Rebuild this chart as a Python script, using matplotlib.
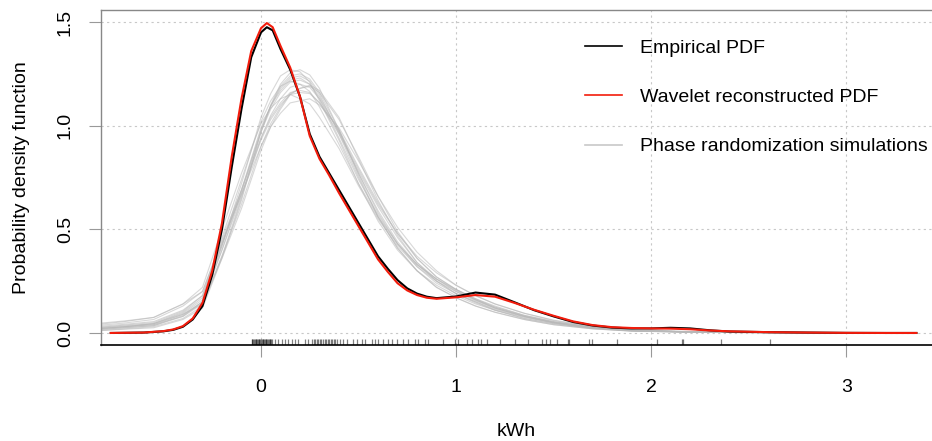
import matplotlib
matplotlib.use("Agg")
import matplotlib.pyplot as plt

plt.rcParams['font.family'] = ['Liberation Sans', 'DejaVu Sans']

# Density curves (kWh vs probability density)
pdf_x = [-0.77, -0.6, -0.5, -0.45, -0.4, -0.35, -0.3, -0.25, -0.2, -0.15, -0.1, -0.05,
         0.0, 0.03, 0.06, 0.1, 0.15, 0.2, 0.25, 0.3, 0.35, 0.4, 0.5, 0.6, 0.65, 0.7,
         0.75, 0.8, 0.85, 0.9, 1.0, 1.1, 1.2, 1.3, 1.4, 1.5, 1.6, 1.7, 1.8, 1.9, 2.0,
         2.1, 2.2, 2.3, 2.4, 2.6, 2.8, 3.0, 3.2, 3.36]
empirical_pdf = [0.0, 0.002, 0.008, 0.015, 0.03, 0.065, 0.13, 0.28, 0.50, 0.80, 1.08, 1.33,
                 1.45, 1.475, 1.46, 1.37, 1.27, 1.14, 0.96, 0.85, 0.77, 0.69, 0.53, 0.37,
                 0.31, 0.255, 0.215, 0.19, 0.175, 0.168, 0.176, 0.195, 0.185, 0.148, 0.11,
                 0.08, 0.053, 0.036, 0.026, 0.022, 0.022, 0.025, 0.022, 0.013, 0.007, 0.004,
                 0.002, 0.0005, 0.0, 0.0]
wavelet_pdf = [0.0, 0.002, 0.009, 0.017, 0.033, 0.07, 0.145, 0.30, 0.53, 0.85, 1.13, 1.36,
               1.47, 1.495, 1.475, 1.385, 1.28, 1.14, 0.95, 0.84, 0.76, 0.675, 0.515, 0.355,
               0.295, 0.24, 0.205, 0.183, 0.17, 0.165, 0.172, 0.183, 0.175, 0.145, 0.112,
               0.083, 0.056, 0.038, 0.028, 0.024, 0.022, 0.021, 0.018, 0.012, 0.008, 0.004,
               0.002, 0.0005, 0.0, 0.0]

# Phase randomization simulations, all on one grid
sim_x = [-0.85, -0.7, -0.55, -0.4, -0.3, -0.2, -0.1, 0.0, 0.05, 0.1, 0.15, 0.2, 0.25, 0.3,
         0.4, 0.5, 0.6, 0.7, 0.8, 0.9, 1.0, 1.1, 1.2, 1.35, 1.5, 1.7, 1.9, 2.2, 2.6, 3.0]
sim_01 = [0.015, 0.025, 0.035, 0.08, 0.15, 0.42, 0.72, 1.04, 1.155, 1.24, 1.27, 1.26, 1.21, 1.12, 0.93, 0.72, 0.54, 0.40, 0.30, 0.23, 0.18, 0.14, 0.11, 0.075, 0.05, 0.025, 0.012, 0.005, 0.002, 0.0]
sim_02 = [0.01, 0.02, 0.03, 0.07, 0.13, 0.37, 0.65, 0.97, 1.095, 1.19, 1.24, 1.25, 1.225, 1.16, 0.98, 0.77, 0.58, 0.43, 0.32, 0.24, 0.19, 0.15, 0.11, 0.07, 0.045, 0.022, 0.01, 0.004, 0.001, 0.0]
sim_03 = [0.035, 0.048, 0.065, 0.13, 0.20, 0.44, 0.67, 0.90, 0.995, 1.06, 1.11, 1.12, 1.13, 1.10, 0.99, 0.83, 0.66, 0.51, 0.39, 0.30, 0.23, 0.18, 0.14, 0.095, 0.06, 0.03, 0.014, 0.006, 0.002, 0.0]
sim_04 = [0.02, 0.03, 0.045, 0.10, 0.17, 0.43, 0.69, 0.97, 1.08, 1.16, 1.21, 1.22, 1.20, 1.14, 0.97, 0.77, 0.59, 0.44, 0.33, 0.25, 0.19, 0.15, 0.115, 0.078, 0.05, 0.024, 0.011, 0.005, 0.002, 0.0]
sim_05 = [0.025, 0.035, 0.045, 0.09, 0.14, 0.36, 0.60, 0.88, 0.995, 1.08, 1.15, 1.18, 1.19, 1.16, 1.03, 0.85, 0.66, 0.49, 0.36, 0.27, 0.21, 0.165, 0.13, 0.085, 0.055, 0.028, 0.013, 0.005, 0.002, 0.0]
sim_06 = [0.04, 0.055, 0.075, 0.14, 0.22, 0.50, 0.77, 1.01, 1.085, 1.13, 1.15, 1.13, 1.105, 1.04, 0.89, 0.71, 0.55, 0.42, 0.32, 0.25, 0.20, 0.16, 0.12, 0.08, 0.05, 0.025, 0.012, 0.005, 0.002, 0.0]
sim_07 = [0.02, 0.03, 0.04, 0.09, 0.15, 0.40, 0.66, 0.94, 1.05, 1.13, 1.185, 1.20, 1.185, 1.13, 0.97, 0.79, 0.62, 0.48, 0.37, 0.29, 0.23, 0.18, 0.14, 0.095, 0.062, 0.032, 0.016, 0.007, 0.003, 0.0]
sim_08 = [0.015, 0.025, 0.035, 0.085, 0.15, 0.40, 0.68, 0.98, 1.095, 1.18, 1.23, 1.24, 1.215, 1.15, 0.96, 0.75, 0.56, 0.41, 0.30, 0.22, 0.17, 0.13, 0.10, 0.065, 0.04, 0.02, 0.009, 0.004, 0.001, 0.0]
sim_09 = [0.03, 0.042, 0.055, 0.11, 0.18, 0.43, 0.67, 0.93, 1.03, 1.10, 1.15, 1.16, 1.155, 1.11, 0.98, 0.80, 0.63, 0.48, 0.36, 0.27, 0.21, 0.16, 0.125, 0.085, 0.055, 0.027, 0.012, 0.005, 0.002, 0.0]
sim_10 = [0.01, 0.018, 0.025, 0.065, 0.12, 0.36, 0.64, 0.97, 1.10, 1.20, 1.255, 1.27, 1.245, 1.18, 0.98, 0.76, 0.56, 0.41, 0.30, 0.22, 0.17, 0.13, 0.10, 0.065, 0.04, 0.02, 0.009, 0.004, 0.001, 0.0]
sim_11 = [0.025, 0.038, 0.05, 0.105, 0.18, 0.46, 0.74, 1.02, 1.12, 1.19, 1.215, 1.20, 1.165, 1.09, 0.91, 0.72, 0.56, 0.43, 0.33, 0.26, 0.21, 0.165, 0.125, 0.082, 0.052, 0.026, 0.012, 0.005, 0.002, 0.0]
sim_12 = [0.02, 0.03, 0.04, 0.08, 0.14, 0.37, 0.62, 0.90, 1.01, 1.09, 1.155, 1.18, 1.195, 1.17, 1.04, 0.84, 0.64, 0.47, 0.34, 0.25, 0.19, 0.145, 0.11, 0.07, 0.045, 0.022, 0.01, 0.004, 0.001, 0.0]
sim_13 = [0.045, 0.058, 0.075, 0.14, 0.20, 0.45, 0.69, 0.94, 1.04, 1.11, 1.16, 1.17, 1.16, 1.11, 0.96, 0.78, 0.61, 0.46, 0.34, 0.26, 0.20, 0.155, 0.12, 0.08, 0.05, 0.025, 0.012, 0.005, 0.002, 0.0]
sim_14 = [0.02, 0.03, 0.045, 0.095, 0.16, 0.42, 0.69, 0.99, 1.095, 1.17, 1.22, 1.23, 1.20, 1.13, 0.94, 0.74, 0.57, 0.43, 0.33, 0.26, 0.205, 0.16, 0.12, 0.08, 0.05, 0.025, 0.012, 0.005, 0.002, 0.0]
simulations = [sim_01, sim_02, sim_03, sim_04, sim_05, sim_06, sim_07,
               sim_08, sim_09, sim_10, sim_11, sim_12, sim_13, sim_14]

# Observed consumption values (rug)
observations = [-0.048, -0.044, -0.04, -0.036, -0.032, -0.028, -0.024, -0.02, -0.016,
                -0.012, -0.008, -0.004, 0.0, 0.004, 0.008, 0.012, 0.016, 0.02, 0.024,
                0.028, 0.032, 0.036, 0.04, 0.044, 0.048, 0.052, 0.055,
                0.072, 0.089, 0.106, 0.123, 0.14, 0.157, 0.174, 0.191, 0.226, 0.243,
                0.262, 0.27, 0.278, 0.286, 0.294, 0.302, 0.31, 0.318, 0.326, 0.334,
                0.342, 0.35, 0.358, 0.366, 0.374, 0.382, 0.388,
                0.405, 0.422, 0.44, 0.473, 0.49, 0.516, 0.533, 0.567, 0.583, 0.6,
                0.627, 0.65, 0.67, 0.696, 0.728, 0.754, 0.79, 0.806, 0.84, 0.856,
                0.933, 0.995, 1.01, 1.055, 1.08, 1.11, 1.13, 1.157, 1.226, 1.30, 1.37,
                1.44, 1.46, 1.48, 1.516, 1.575, 1.58, 1.684, 1.696, 1.824, 2.03,
                2.157, 2.166, 2.36, 2.61]

fig = plt.figure(figsize=(9.32, 4.41), dpi=100)
ax = fig.add_axes([0.1084, 0.2177, 0.8916, 0.7596])

for k, sim in enumerate(simulations):
    ax.plot(sim_x, sim, color='#b8b8b8', lw=0.8, alpha=0.55,
            label='Phase randomization simulations' if k == 0 else None)
ax.plot(pdf_x, empirical_pdf, color='black', lw=1.5, label='Empirical PDF')
ax.plot(pdf_x, wavelet_pdf, color='#f21c0c', lw=1.5, label='Wavelet reconstructed PDF')

ax.vlines(observations, 0, 0.018, transform=ax.get_xaxis_transform(),
          color='black', lw=0.9, alpha=0.5)

ax.set_xlim(-0.82, 3.44)
ax.set_ylim(-0.058, 1.558)
ax.set_xticks([0, 1, 2, 3])
ax.set_yticks([0.0, 0.5, 1.0, 1.5])
ax.set_yticklabels(['0.0', '0.5', '1.0', '1.5'], rotation=90, va='center')

ax.grid(True, color='#c8c8c8', linestyle=(0, (2, 3)), lw=0.8)
ax.set_axisbelow(True)

for side in ['left', 'top']:
    ax.spines[side].set_color('#888888')
    ax.spines[side].set_linewidth(1.0)
ax.spines['right'].set_visible(False)
ax.spines['bottom'].set_color('black')
ax.spines['bottom'].set_linewidth(1.2)

ax.tick_params(axis='both', length=8.6, width=0.8, color='#999999', labelsize=14)
ax.tick_params(axis='x', pad=16)
ax.tick_params(axis='y', pad=11)

ax.set_xlabel('kWh', fontsize=14, labelpad=19.5)
ax.set_ylabel('Probability density function', fontsize=14, labelpad=19)

handles, labels = ax.get_legend_handles_labels()
order = [1, 2, 0]
leg = ax.legend([handles[i] for i in order], [labels[i] for i in order],
                loc='upper left', bbox_to_anchor=(0.5824, 0.912), frameon=False,
                fontsize=14, handlelength=1.9, handletextpad=0.93,
                labelspacing=1.62, borderpad=0, borderaxespad=0)
for line in leg.get_lines():
    line.set_alpha(1)
    line.set_linewidth(1.2)
leg.get_lines()[2].set_color('#c8c8c8')

fig.savefig('out.png', dpi=100)
